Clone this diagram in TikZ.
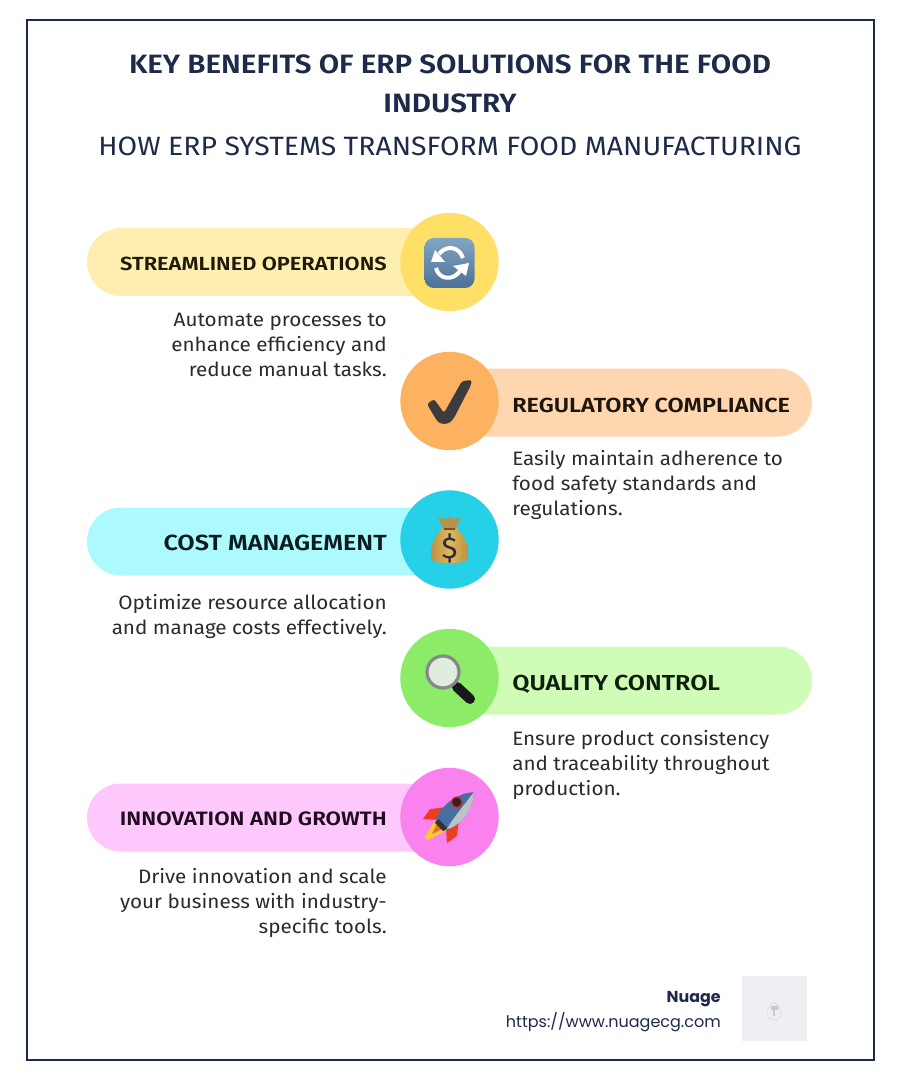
\documentclass[tikz,border=0pt]{standalone}
\usepackage{fontspec}
\setmainfont{Fira Sans}
\newfontfamily\popp{Poppins}
\newfontfamily\titlefont[FakeStretch=1.116]{Fira Sans SemiBold}
\newfontfamily\subfont[FakeStretch=1.07]{Fira Sans}
\newfontfamily\labfont[FakeStretch=1.15]{Fira Sans SemiBold}
\newfontfamily\bodyfont[FakeStretch=1.065]{Fira Sans}
\definecolor{navy}{HTML}{1E2A4A}
\definecolor{ink}{HTML}{2B2B2B}
\definecolor{barA}{HTML}{FEEFB0}\definecolor{barB}{HTML}{FED7B0}\definecolor{barC}{HTML}{ACFAFE}\definecolor{barD}{HTML}{CFFDB8}\definecolor{barE}{HTML}{FEC8FD}
\definecolor{discA}{HTML}{FEE066}\definecolor{discB}{HTML}{FCB260}\definecolor{discC}{HTML}{26D0E6}\definecolor{discD}{HTML}{8CEC68}\definecolor{discE}{HTML}{FA82EE}
\definecolor{labA}{HTML}{1E1A0C}\definecolor{labB}{HTML}{1E160C}\definecolor{labC}{HTML}{0C1C1E}\definecolor{labD}{HTML}{101E0C}\definecolor{labE}{HTML}{200C20}
\definecolor{btnT}{HTML}{82A5C5}\definecolor{btnB}{HTML}{4C7196}
\definecolor{chk}{HTML}{3C3C3E}
\definecolor{bagL}{HTML}{B98A36}\definecolor{bagM}{HTML}{DDB863}\definecolor{bagT}{HTML}{B8924A}\definecolor{bagC}{HTML}{78551E}\definecolor{dol}{HTML}{322C32}
\definecolor{lens}{HTML}{DFEEDC}\definecolor{ring}{HTML}{87878E}
\definecolor{rred}{HTML}{F03C1E}\definecolor{ryel}{HTML}{FAC832}\definecolor{rora}{HTML}{EB6E28}\definecolor{rblu}{HTML}{466EA0}\definecolor{rgry}{HTML}{BEC3C8}\definecolor{rwin}{HTML}{E11E1E}
\definecolor{tile}{HTML}{EEEEF3}\definecolor{tileA}{HTML}{D7D7DE}\definecolor{tileB}{HTML}{C8C8D0}
\newcommand{\px}[1]{\fontsize{\the\dimexpr #1pt*3/4\relax}{18.75pt}\selectfont}
\tikzset{
  x=0.75pt,y=-0.75pt,
  disc/.style={circle,fill=#1,draw=none,minimum size=73.8pt,inner sep=0pt},
  lab/.style={inner sep=0pt,text=#1},
  bodytxt/.style={inner sep=0pt,font=\bodyfont\px{19.4},text=ink},
  head/.style={anchor=base,inner sep=0pt,text=navy},
}
\begin{document}
\begin{tikzpicture}
\useasboundingbox (0,0) rectangle (900,1080);
\fill[white] (0,0) rectangle (900,1080);
\draw[navy,line width=1.6pt] (27,20) rectangle (874,1060);
\node[head,font=\titlefont\px{26.5}] (title1) at (450,73.5) {KEY BENEFITS OF ERP SOLUTIONS FOR THE FOOD};
\node[head,font=\titlefont\px{26.5}] (title2) at (450,112.5) {INDUSTRY};
\node[head,font=\subfont\px{26.5}] (sub) at (450,155.5) {HOW ERP SYSTEMS TRANSFORM FOOD MANUFACTURING};
% bars
\fill[barA] (440,228) -- (121,228) arc[start angle=-90,end angle=-270,radius=34] -- (440,296) -- cycle;
\fill[barB] (460,368.5) -- (778,368.5) arc[start angle=-90,end angle=90,radius=34] -- (460,436.5) -- cycle;
\fill[barC] (440,507.5) -- (121,507.5) arc[start angle=-90,end angle=-270,radius=34] -- (440,575.5) -- cycle;
\fill[barD] (460,646.5) -- (778,646.5) arc[start angle=-90,end angle=90,radius=34] -- (460,714.5) -- cycle;
\fill[barE] (440,783.5) -- (121,783.5) arc[start angle=-90,end angle=-270,radius=34] -- (440,851.5) -- cycle;
% discs
\node[disc=discA] (d1) at (449.5,262) {};
\node[disc=discB] (d2) at (449.5,401) {};
\node[disc=discC] (d3) at (449.5,539.5) {};
\node[disc=discD] (d4) at (449.5,678) {};
\node[disc=discE] (d5) at (449.5,817) {};
% labels
\node[lab=labA,anchor=base east,font=\labfont\px{19}] (l1) at (387,271) {STREAMLINED OPERATIONS};
\node[lab=labB,anchor=base west,font=\labfont\px{20.4}] (l2) at (512,412) {REGULATORY COMPLIANCE};
\node[lab=labC,anchor=base east,font=\labfont\px{21.9}] (l3) at (387,550) {COST MANAGEMENT};
\node[lab=labD,anchor=base west,font=\labfont\px{21.7}] (l4) at (512,690) {QUALITY CONTROL};
\node[lab=labE,anchor=base east,font=\labfont\px{19.4}] (l5) at (387,825) {INNOVATION AND GROWTH};
% body text
\node[bodytxt,anchor=base east,align=right] (b1) at (387,376) {Automate processes to\\enhance efficiency and\\reduce manual tasks.};
\node[bodytxt,anchor=base west,align=left] (b2) at (512,515) {Easily maintain adherence to\\food safety standards and\\regulations.};
\node[bodytxt,anchor=base east,align=right] (b3) at (387,634) {Optimize resource allocation\\and manage costs effectively.};
\node[bodytxt,anchor=base west,align=left] (b4) at (512,795) {Ensure product consistency\\and traceability throughout\\production.};
\node[bodytxt,anchor=base east,align=right] (b5) at (387,933) {Drive innovation and scale\\your business with industry-\\specific tools.};
% icon 1: arrows button
\shade[top color=btnT,bottom color=btnB,rounded corners=7pt] (424.5,238) rectangle (474.5,288);
\draw[white,line width=3pt] (463,258) .. controls (459,246) and (446,245) .. (439,254);
\fill[white] (431,262) -- (435,250) -- (445,262) -- cycle;
\draw[white,line width=3pt] (436,268) .. controls (439,280) and (453,281) .. (460,271);
\fill[white] (469,263) -- (466,276) -- (453,266) -- cycle;
% icon 2: check
\fill[chk,rounded corners=2pt] (427,404) -- (434,399) -- (444,413) -- (462,381) -- (472,380) -- (470.5,386) -- (454,418) -- (449,423.5) -- (441,424) -- (437,421) -- cycle;
% icon 3: money bag
\shade[left color=bagL,right color=bagL,middle color=bagM] (443,528) .. controls (431,538) and (428,556) .. (433,561) .. controls (440,564) and (459,564) .. (466,561) .. controls (471,556) and (468,538) .. (456,528) -- cycle;
\fill[bagT] (444,530) -- (455,530) -- (461,517.5) -- (455,519) -- (450,517) -- (445,519) -- (438,517.5) -- cycle;
\draw[bagC,line width=.9pt] (444,529) -- (455,529);
\node[inner sep=0pt,text=dol,font=\px{30}] (dollar) at (449.5,548) {\$};
% icon 4: magnifier
\draw[black!90,line width=7.5pt,line cap=round] (457,687) -- (470,699);
\filldraw[fill=lens,draw=ring,line width=2.4pt] (443,672) circle[radius=16];
% icon 5: rocket
\begin{scope}[shift={(449,817)},rotate=45]
  \fill[ryel] (-10,-8) -- (-31,-3) -- (-32,1) -- (-10,8) -- cycle;
  \fill[rora] (-10,-5) -- (-24,0) -- (-10,5) -- cycle;
  \fill[rred] (4,-10) -- (-8,-19) -- (-20,-17) -- (-10,-6) -- cycle;
  \fill[rred] (4,10) -- (-8,19) -- (-20,17) -- (-10,6) -- cycle;
  \fill[rblu] (-13,-6) .. controls (-5,-13) and (20,-14) .. (35,0) .. controls (20,14) and (-5,13) .. (-13,6) -- cycle;
  \fill[rgry] (-10,7) .. controls (0,4) and (20,2) .. (35,0) .. controls (20,14) and (-3,13) .. (-10,7) -- cycle;
  \fill[black!80] (-14,-6) rectangle (-9,6);
  \filldraw[fill=black!85,draw=rwin,line width=.9pt] (16,-5) circle[radius=5.2];
\end{scope}
% footer
\node[anchor=base east,inner sep=0pt,text=navy,font=\popp\px{15.9}\bfseries] (brand) at (721,1002) {Nuage};
\node[anchor=base east,inner sep=0pt,text=navy,font=\popp\px{16}] (url) at (721,1027) {https://www.nuagecg.com};
\fill[tile] (742,976) rectangle (807,1041);
\draw[tileA,line width=.4pt] (774,1003) .. controls (779,1003) and (781,1012) .. (781,1014) .. controls (781,1018) and (777,1020) .. (774,1020) .. controls (771,1020) and (767,1018) .. (767,1014) .. controls (767,1012) and (769,1003) .. (774,1003) -- cycle;
\fill[tileB] (770.5,1006) rectangle (777.5,1010);
\fill[tileB] (773.4,1010) rectangle (774.6,1016);
\end{tikzpicture}
\end{document}
